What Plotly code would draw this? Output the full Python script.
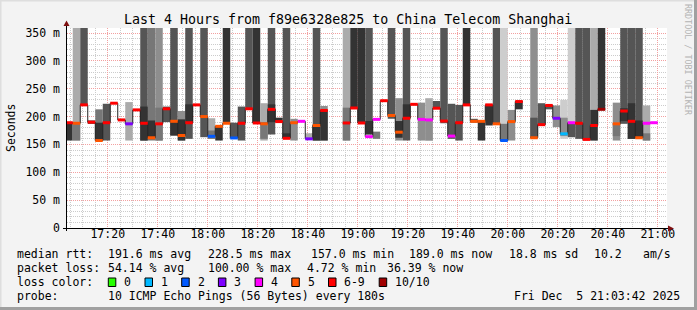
import plotly.graph_objects as go
import pandas as pd

N = None
TITLE = "Last 4 Hours from f89e6328e825 to China Telecom Shanghai"
STEP_S = 180
bar_start = pd.date_range("2025-12-05 17:03:00", periods=80, freq="180s")

# median rtt per 3-minute step (ms)
median_ms = [189, 188, 221, 190, 157, 189, 224, 194, 187, 212,
             188, 162, 187, 214, 191.5, 166, 189, 221, 200, 164.6,
             182.5, 188, 161.6, 188, 214, 188.5, 187, 213, 191, 161,
             189, 191.5, 160, 184, 211, N, N, 188.5, 215.4, 188.5,
             164, 195, 228.5, 202, 172, 197, 222, 195, 194, 215,
             192, 165, 189, 221, 191.5, 191.5, 221, 187, 157, 191,
             227, N, 162, 185.5, 220, 197, 169, 189, 188, 159,
             184, 213, N, 187, 210, 191.5, 162, 188, 189, N]

# lost pings (of 10) category per step
loss_cat = ["6-9", "5", "6-9", "6-9", "5", "6-9", "6-9", "6-9", "3", "6-9",
            "6-9", "5", "6-9", "6-9", "5", "5", "6-9", "6-9", "5", "2",
            "5", "5", "2", "6-9", "6-9", "6-9", "5", "6-9", "6-9", "6-9",
            "5", "4", "3", "5", "6-9", N, N, "6-9", "6-9", "6-9",
            "4", "4", "6-9", "5", "5", "6-9", "6-9", "4", "4", "6-9",
            "6-9", "4", "6-9", "6-9", "5", "5", "6-9", "5", "2", "5",
            "6-9", N, "5", "6-9", "6-9", "3", "1", "4", "6-9", "6-9",
            "6-9", "10/10", N, "5", "6-9", "6-9", "5", "4", "4", N]

# smoke: outer band (ms) and density level
outer_lo = [157, 157, 221, 187, 157, 157, N, N, 157, N,
            157, 157, 157, 190, 166, 157, 160, N, 163, 160,
            157, 188, 162, 157, 214, 188.5, 157, 168, 190, 161,
            157, N, 160, 157, 157, N, N, 157, 215, 188.5,
            168, 160, N, 196, 157, 157, N, 157, 157, 215,
            188, 160, 157, 221, 189, 157, 184, 187, 157, 157,
            213, N, 162, 185, 213, 181, 160, 163, 160, 159,
            157, 213, N, 157, 187, 160, 162, 157, N, N]
outer_hi = [189, 360, 360, 193, 213, 223, N, N, 226, N,
            360, 360, 360, 218, 360, 210, 360, N, 360, 197,
            182.5, 360, 189, 218, 360, 360, 224, 360, 198, 360,
            196, N, 170, 360, 219, N, N, 360, 360, 360,
            360, 173, N, 360, 233, 360, N, 225, 233, 228,
            360, 223, 221, 360, 196, 191.5, 221, 360, 360, 212,
            227, N, 360, 224, 220, 220, 230, 360, 360, 360,
            360, 360, N, 225, 360, 360, 360, 220, N, N]
outer_den = [6, 2, 5, 6, 4, 5, N, N, 2, N,
             5, 4, 3, 5, 5, 3, 5, N, 5, 2,
             6, 6, 5, 5, 5, 6, 2, 5, 6, 5,
             3, N, 2, 5, 3, N, N, 2, 6, 6,
             5, 4, N, 5, 3, 5, N, 3, 2, 5,
             5, 5, 5, 6, 5, 6, 6, 5, 1, 3,
             6, N, 3, 5, 5, 3, 1, 1, 5, 5,
             2, 6, N, 3, 5, 5, 5, 2, N, N]

# smoke: inner (denser) band
inner_lo = [N, 157, N, N, 157, N, N, N, N, N,
            157, 160, 157, N, 166, 157, 189, N, N, 160,
            N, N, N, N, N, N, 160, 190, N, 161,
            N, N, N, 157, 157, N, N, 157, N, N,
            168, N, N, N, 162, 197, N, N, 157, N,
            N, N, N, N, N, N, N, N, 157, N,
            N, N, 162, N, N, N, 165, 163, N, N,
            157, N, N, 165, 192, 160, 162, 157, N, N]
inner_hi = [N, 188, N, N, 189, N, N, N, N, N,
            218, 193, 216, N, 191, 195, 222, N, N, 175,
            N, N, N, N, N, N, 190, 222, N, 170,
            N, N, N, 186, 211, N, N, 216, N, N,
            192, N, N, N, 192, 222, N, N, 193, N,
            N, N, N, N, N, N, N, N, 187, N,
            N, N, 198, N, N, N, 198, 189, N, N,
            212, N, N, 187, 215, 224, 193, 170, N, N]
inner_den = [N, 4, N, N, 6, N, N, N, N, N,
             6, 6, 4, N, 6, 6, 6, N, N, 4,
             N, N, N, N, N, N, 4, 6, N, 6,
             N, N, N, 6, 6, N, N, 4, N, N,
             6, N, N, N, 6, 6, N, N, 3, N,
             N, N, N, N, N, N, N, N, 4, N,
             N, N, 5, N, N, N, 3, 5, N, N,
             6, N, N, 4, 6, 6, 6, 4, N, N]

loss_labels = ["0", "1", "2", "3", "4", "5", "6-9", "10/10"]
loss_colors = ["#26ff00", "#00b8ff", "#0059ff", "#7e00ff", "#ff00ff", "#ff5500", "#ff0000", "#a10000"]

stats_rtt = ["191.6 ms avg", "228.5 ms max", "157.0 ms min", "189.0 ms now", "18.8 ms sd", "10.2", "am/s"]
stats_loss = ["54.14 % avg", "100.00 % max", "4.72 % min", "36.39 % now"]
probe_text = "10 ICMP Echo Pings (56 Bytes) every 180s"
stamp_text = "Fri Dec\u00a0\u00a05 21:03:42 2025"

y_tickvals = [0, 50, 100, 150, 200, 250, 300, 350]
y_ticktext = ["0", "50 m", "100 m", "150 m", "200 m", "250 m", "300 m", "350 m"]

# ---------------- drawing ----------------
GREYS = {1: "#cdcdcd", 2: "#ababab", 3: "#8e8e8e", 4: "#777777", 5: "#555555", 6: "#333333"}
FONT = "DejaVu Sans Mono"
step = pd.Timedelta(seconds=STEP_S)
fmt = lambda t: t.strftime("%Y-%m-%d %H:%M:%S")
centers = [fmt(t + step / 2) for t in bar_start]

W, H = 697, 310
PL, PR, PT, PB = 67, 667, 28, 228


def px(x):
    return (x - PL) / (PR - PL)


def py(y):
    return (PB - y) / (PB - PT)


def smoke(lo, hi, den):
    xs, bs, ys, cs = [], [], [], []
    for k in range(len(lo)):
        if lo[k] is None:
            continue
        xs.append(centers[k]); bs.append(lo[k]); ys.append(hi[k] - lo[k]); cs.append(GREYS[den[k]])
    return go.Bar(x=xs, base=bs, y=ys, width=STEP_S * 1000,
                  marker=dict(color=cs, line=dict(width=0)), hoverinfo="skip", showlegend=False)


fig = go.Figure()
fig.add_trace(smoke(outer_lo, outer_hi, outer_den))
fig.add_trace(smoke(inner_lo, inner_hi, inner_den))

# median step line
lx, ly = [], []
n = len(median_ms)
for k in range(n):
    m = median_ms[k]
    if m is None:
        continue
    lx.append(fmt(bar_start[k])); ly.append(m)
    nxt = median_ms[k + 1] if k + 1 < n else None
    if nxt is None:
        lx.append(fmt(bar_start[k] + step)); ly.append(m)
        lx.append(None); ly.append(None)
fig.add_trace(go.Scatter(x=lx, y=ly, mode="lines", line=dict(color="#202020", width=1, shape="hv"),
                         connectgaps=False, hoverinfo="skip", showlegend=False))

# loss-coloured median marks
for lab, col in zip(loss_labels, loss_colors):
    sx, sy = [], []
    for k in range(n):
        if loss_cat[k] == lab and median_ms[k] is not None:
            sx += [fmt(bar_start[k]), fmt(bar_start[k] + step), None]
            sy += [median_ms[k], median_ms[k], None]
    if sx:
        fig.add_trace(go.Scatter(x=sx, y=sy, mode="lines", line=dict(color=col, width=3),
                                 connectgaps=False, hoverinfo="skip", showlegend=False))

MAJ = "#f3a0a0"
MIN = "#cccccc"
DASH = "1px,1px"
fig.update_layout(
    width=W, height=H, autosize=False,
    margin=dict(l=PL, r=W - PR, t=PT, b=H - PB, autoexpand=False, pad=0),
    paper_bgcolor="#f3f3f3", plot_bgcolor="#ffffff", barmode="overlay", showlegend=False,
    font=dict(family=FONT, size=11.5, color="#000000"),
    xaxis=dict(type="date", range=["2025-12-05 17:03:42", "2025-12-05 21:03:42"],
               tick0="2025-12-05 17:00:00", dtick=20 * 60 * 1000, tickformat="%H:%M",
               showgrid=True, gridcolor=MAJ, griddash=DASH, gridwidth=1,
               zeroline=False, showline=False, ticks="", ticklabelstandoff=-3,
               tickfont=dict(family=FONT, size=11.5, color="#000"),
               minor=dict(tick0="2025-12-05 17:00:00", dtick=5 * 60 * 1000, showgrid=True,
                          gridcolor=MIN, griddash=DASH, gridwidth=1, ticks="")),
    yaxis=dict(range=[0, 359], tickmode="array", tickvals=y_tickvals, ticktext=y_ticktext,
               showgrid=True, gridcolor=MAJ, griddash=DASH, gridwidth=1,
               zeroline=False, showline=False, ticks="", ticklabelstandoff=6,
               tickfont=dict(family=FONT, size=11.5, color="#000"),
               minor=dict(tick0=0, dtick=10, showgrid=True, gridcolor=MIN, griddash=DASH,
                          gridwidth=1, ticks="")),
)

shapes = []
# frame shading
shapes.append(dict(type="rect", xref="paper", yref="paper", x0=px(0), x1=px(W), y0=py(0), y1=py(1.5),
                   fillcolor="#dedede", line=dict(width=0), layer="above"))
shapes.append(dict(type="rect", xref="paper", yref="paper", x0=px(0), x1=px(1.5), y0=py(0), y1=py(H),
                   fillcolor="#dedede", line=dict(width=0), layer="above"))
shapes.append(dict(type="rect", xref="paper", yref="paper", x0=px(0), x1=px(W), y0=py(H - 3), y1=py(H),
                   fillcolor="#a0a0a0", line=dict(width=0), layer="above"))
shapes.append(dict(type="rect", xref="paper", yref="paper", x0=px(W - 3), x1=px(W), y0=py(0), y1=py(H),
                   fillcolor="#a0a0a0", line=dict(width=0), layer="above"))
# axes
shapes.append(dict(type="line", xref="paper", yref="paper", x0=px(63), x1=px(670), y0=py(228.5), y1=py(228.5),
                   line=dict(color="#000000", width=1), layer="above"))
shapes.append(dict(type="line", xref="paper", yref="paper", x0=px(66.5), x1=px(66.5), y0=py(231), y1=py(24),
                   line=dict(color="#000000", width=1), layer="above"))
shapes.append(dict(type="path", xref="paper", yref="paper",
                   path=f"M{px(63.5)},{py(26)} L{px(69.5)},{py(26)} L{px(66.5)},{py(20.5)} Z",
                   fillcolor="#7f1010", line=dict(width=0), layer="above"))
shapes.append(dict(type="path", xref="paper", yref="paper",
                   path=f"M{px(668)},{py(225.5)} L{px(668)},{py(231.5)} L{px(674)},{py(228.5)} Z",
                   fillcolor="#7f1010", line=dict(width=0), layer="above"))

ann = []


def text(x, y, s, size=11.5, color="#000000", anchor="left", angle=0):
    ann.append(dict(x=px(x), y=py(y), xref="paper", yref="paper", text=s, showarrow=False,
                    xanchor=anchor, yanchor="middle", textangle=angle, borderpad=0,
                    font=dict(family=FONT, size=size, color=color)))


text(347.5, 19, TITLE, size=13.3, anchor="center")
text(11, 128, "Seconds", anchor="center", angle=-90)
text(688, 60, "RRDTOOL / TOBI OETIKER", size=8.4, color="#b4b4b4", anchor="center", angle=90)

COLX = [107.3, 207.3, 310, 407.7, 508, 592.7, 641.7]
text(16, 254, "median rtt:")
for x, s in zip(COLX, stats_rtt):
    text(x, 254, s)
text(16, 268, "packet loss:")
for x, s in zip([107.3, 207.3, 306, 386], stats_loss):
    text(x, 268, s)
text(16, 282, "loss color:")
bx = 108.3
for lab, col in zip(loss_labels, loss_colors):
    shapes.append(dict(type="rect", xref="paper", yref="paper", x0=px(bx), x1=px(bx + 7.5),
                       y0=py(278), y1=py(286.5), fillcolor=col,
                       line=dict(color="#000000", width=1), layer="above"))
    text(bx + 15, 282, lab)
    bx += 29.7 + 7 * len(lab)
text(16, 296, "probe:")
text(107.3, 296, probe_text)
text(513.3, 296, stamp_text)

fig.update_layout(shapes=shapes, annotations=ann)
fig.write_html("out.html")
